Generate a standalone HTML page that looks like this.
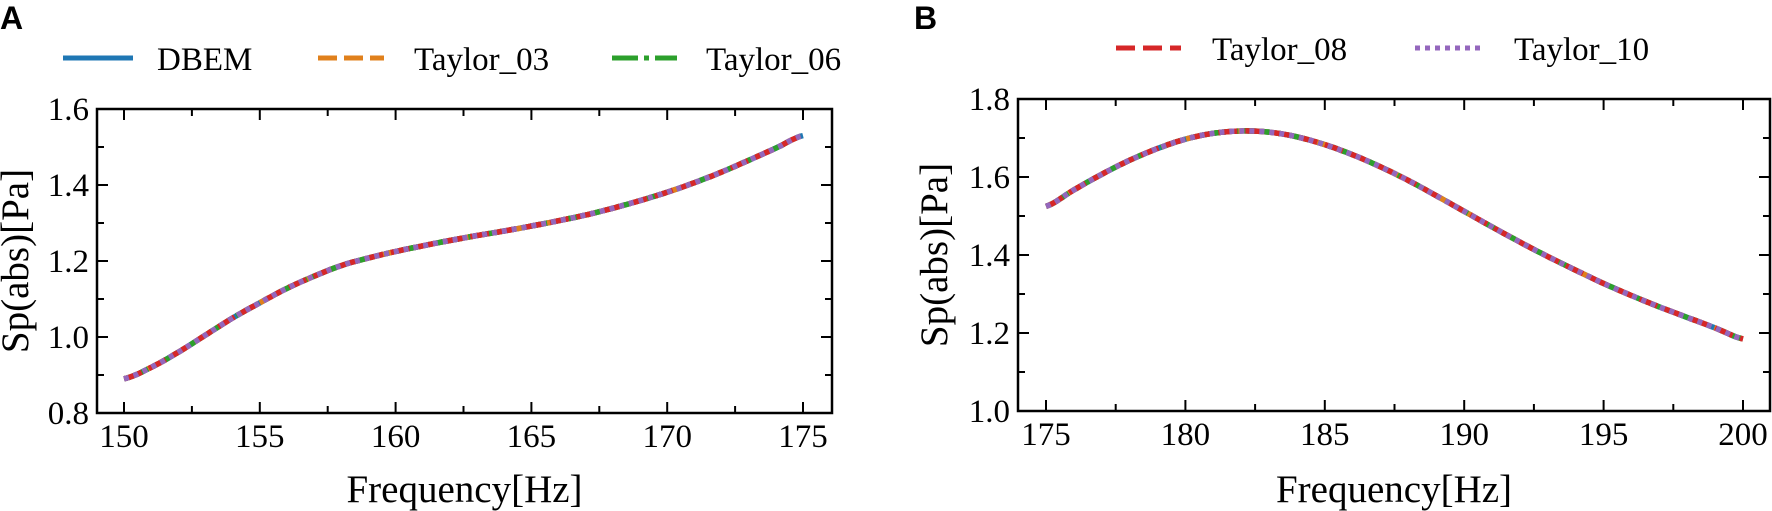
<!DOCTYPE html>
<html><head><meta charset="utf-8">
<style>
html,body{margin:0;padding:0;background:#fff;}
svg{display:block;}
text{font-family:"Liberation Serif",serif;fill:#000;}
.tk{font-size:33px;}
.lg{font-size:33px;}
.lab{font-size:39px;}
.pl{font-family:"Liberation Sans",sans-serif;font-weight:bold;font-size:32px;}
</style></head>
<body>
<svg id="s" width="1772" height="511" viewBox="0 0 1772 511" xmlns="http://www.w3.org/2000/svg">
<text class="pl" x="0" y="29">A</text>
<text class="pl" x="914" y="29">B</text>
<line x1="63" y1="58" x2="133" y2="58" stroke="#1f77b4" stroke-width="5"/>
<text class="lg" x="157" y="70">DBEM</text>
<line x1="318" y1="58" x2="384" y2="58" stroke="#e0801c" stroke-width="5" stroke-dasharray="19,7"/>
<text class="lg" x="414" y="70">Taylor_03</text>
<line x1="612" y1="58" x2="677" y2="58" stroke="#2ca02c" stroke-width="5" stroke-dasharray="26,6,5,6"/>
<text class="lg" x="706" y="70">Taylor_06</text>
<line x1="1116" y1="48" x2="1181" y2="48" stroke="#d62728" stroke-width="5" stroke-dasharray="19,8"/>
<text class="lg" x="1212" y="60">Taylor_08</text>
<line x1="1415" y1="48" x2="1480" y2="48" stroke="#9467bd" stroke-width="5" stroke-dasharray="5,5"/>
<text class="lg" x="1514" y="60">Taylor_10</text>
<g id="g"></g>
</svg>
<script>
var NS="http://www.w3.org/2000/svg",g=document.getElementById("g");
function el(t,a,txt){var e=document.createElementNS(NS,t);for(var k in a)e.setAttribute(k,a[k]);if(txt!==undefined)e.textContent=txt;g.appendChild(e);return e;}
function panel(P){
 var X=function(v){return P.x0+(v-P.xa)*(P.x1-P.x0)/(P.xb-P.xa);};
 var Y=function(v){return P.yb0+(v-P.ya)*(P.yt-P.yb0)/(P.yb-P.ya);};
 for(var v=P.xa;v<=P.xb+1e-6;v+=2.5){var maj=Math.abs(v/5-Math.round(v/5))<1e-6,L=maj?11:7,x=X(v);
  el("line",{x1:x,y1:P.yb0,x2:x,y2:P.yb0-L,stroke:"#000","stroke-width":2});
  el("line",{x1:x,y1:P.yt,x2:x,y2:P.yt+L,stroke:"#000","stroke-width":2});
  if(maj)el("text",{x:x,y:P.yb0+34,"text-anchor":"middle","class":"tk"},String(Math.round(v)));}
 for(var i=0;i<=8;i++){var v=P.ya+i*0.1,maj=i%2==0,L=maj?11:7,y=Y(v);
  el("line",{x1:P.left,y1:y,x2:P.left+L,y2:y,stroke:"#000","stroke-width":2});
  el("line",{x1:P.right,y1:y,x2:P.right-L,y2:y,stroke:"#000","stroke-width":2});
  if(maj)el("text",{x:P.left-8,y:y+11,"text-anchor":"end","class":"tk"},v.toFixed(1));}
 el("rect",{x:P.left,y:P.yt,width:P.right-P.left,height:P.yb0-P.yt,fill:"none",stroke:"#000","stroke-width":2.5});
 el("text",{x:(P.left+P.right)/2,y:502,"text-anchor":"middle","class":"lab"},"Frequency[Hz]");
 el("text",{x:0,y:0,"text-anchor":"middle","class":"lab",transform:"translate("+P.ylx+","+(P.yt+P.yb0)/2+") rotate(-90)"},"Sp(abs)[Pa]");
 var d=P.data,pts=[];
 for(var i=0;i<d.length-1;i++){var p0=d[Math.max(0,i-1)],p1=d[i],p2=d[i+1],p3=d[Math.min(d.length-1,i+2)];
  for(var t=0;t<1;t+=0.1){var t2=t*t,t3=t2*t;
   var yv=0.5*((2*p1)+(-p0+p2)*t+(2*p0-5*p1+4*p2-p3)*t2+(-p0+3*p1-3*p2+p3)*t3);
   pts.push([X(P.xa+i+t),Y(yv)]);}}
 pts.push([X(P.xb),Y(d[d.length-1])]);
 var s="M"+pts.map(function(p){return p[0].toFixed(1)+","+p[1].toFixed(1);}).join(" L");
 var styles=[["#1f77b4",""],["#e0801c","19,7"],["#2ca02c","26,6,5,6"],["#d62728","19,8"],["#9467bd","5,5"]];
 styles.forEach(function(st){var a={d:s,fill:"none",stroke:st[0],"stroke-width":5.5};if(st[1])a["stroke-dasharray"]=st[1];el("path",a);});
}
panel({left:97,right:832,yt:109,yb0:413,x0:124,x1:803,xa:150,xb:175,ya:0.8,yb:1.6,ylx:28,
 data:[0.89,0.92,0.96,1.005,1.05,1.09,1.128,1.16,1.188,1.208,1.225,1.24,1.254,1.267,1.279,1.292,1.306,1.321,1.339,1.359,1.381,1.406,1.434,1.465,1.497,1.53]});
panel({left:1018,right:1770,yt:99,yb0:411,x0:1046,x1:1743,xa:175,xb:200,ya:1.0,yb:1.8,ylx:947,
 data:[1.525,1.567,1.607,1.643,1.673,1.697,1.712,1.718,1.715,1.703,1.683,1.657,1.626,1.591,1.552,1.512,1.472,1.433,1.396,1.361,1.327,1.296,1.267,1.24,1.213,1.185]});
</script>
</body></html>
